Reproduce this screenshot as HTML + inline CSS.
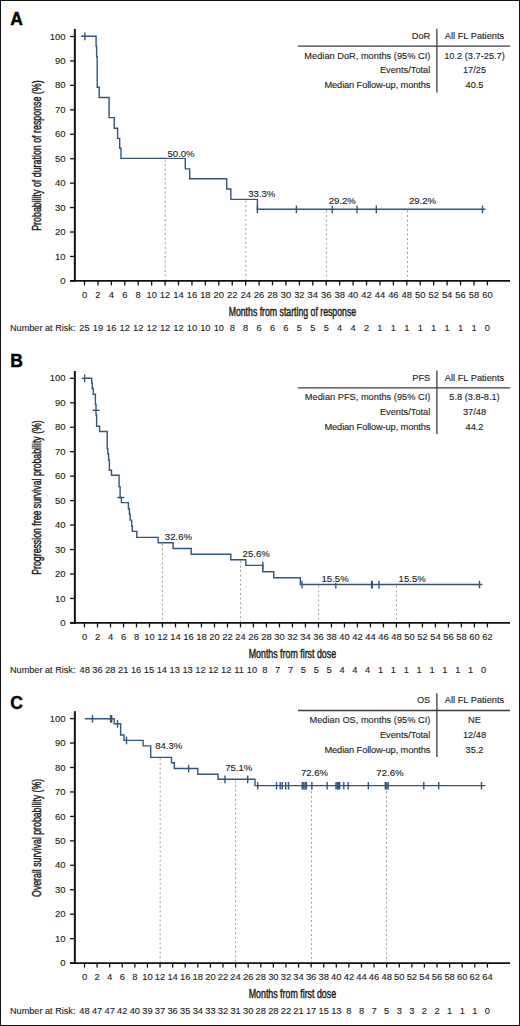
<!DOCTYPE html><html><head><meta charset="utf-8"><style>html,body{margin:0;padding:0;background:#fff;}svg{display:block;font-family:"Liberation Sans",sans-serif;}text{fill:#1c1c1c;stroke:#1c1c1c;stroke-width:.12px;}text.ti{stroke-width:.45px;}text.L{fill:#000;stroke:#000;stroke-width:.4px;}</style></head><body>
<svg width="520" height="1026" viewBox="0 0 520 1026">
<rect x="0" y="0" width="520" height="1026" fill="#fff"/>
<rect x="0.5" y="0.5" width="519" height="1025" fill="none" stroke="#111" stroke-width="1"/>
<text x="10.2" y="25.4" font-size="17.5" font-weight="bold" class="L">A</text>
<line x1="165.2" y1="159.4" x2="165.2" y2="279.9" stroke="#a4a4a4" stroke-width="1" stroke-dasharray="2.2 2.4"/>
<line x1="245.8" y1="200.4" x2="245.8" y2="279.9" stroke="#a4a4a4" stroke-width="1" stroke-dasharray="2.2 2.4"/>
<line x1="326.4" y1="210.3" x2="326.4" y2="279.9" stroke="#a4a4a4" stroke-width="1" stroke-dasharray="2.2 2.4"/>
<line x1="407.5" y1="210.3" x2="407.5" y2="279.9" stroke="#a4a4a4" stroke-width="1" stroke-dasharray="2.2 2.4"/>
<line x1="74.85" y1="28.9" x2="74.85" y2="281.8" stroke="#111" stroke-width="2"/>
<line x1="70" y1="280.9" x2="510" y2="280.9" stroke="#111" stroke-width="1.8"/>
<line x1="70" y1="280.9" x2="74" y2="280.9" stroke="#111" stroke-width="1.3"/>
<text x="65.6" y="284" font-size="9.5" text-anchor="end">0</text>
<line x1="70" y1="256.46" x2="74" y2="256.46" stroke="#111" stroke-width="1.3"/>
<text x="65.6" y="259.56" font-size="9.5" text-anchor="end">10</text>
<line x1="70" y1="232.02" x2="74" y2="232.02" stroke="#111" stroke-width="1.3"/>
<text x="65.6" y="235.12" font-size="9.5" text-anchor="end">20</text>
<line x1="70" y1="207.58" x2="74" y2="207.58" stroke="#111" stroke-width="1.3"/>
<text x="65.6" y="210.68" font-size="9.5" text-anchor="end">30</text>
<line x1="70" y1="183.14" x2="74" y2="183.14" stroke="#111" stroke-width="1.3"/>
<text x="65.6" y="186.24" font-size="9.5" text-anchor="end">40</text>
<line x1="70" y1="158.7" x2="74" y2="158.7" stroke="#111" stroke-width="1.3"/>
<text x="65.6" y="161.8" font-size="9.5" text-anchor="end">50</text>
<line x1="70" y1="134.26" x2="74" y2="134.26" stroke="#111" stroke-width="1.3"/>
<text x="65.6" y="137.36" font-size="9.5" text-anchor="end">60</text>
<line x1="70" y1="109.82" x2="74" y2="109.82" stroke="#111" stroke-width="1.3"/>
<text x="65.6" y="112.92" font-size="9.5" text-anchor="end">70</text>
<line x1="70" y1="85.38" x2="74" y2="85.38" stroke="#111" stroke-width="1.3"/>
<text x="65.6" y="88.48" font-size="9.5" text-anchor="end">80</text>
<line x1="70" y1="60.94" x2="74" y2="60.94" stroke="#111" stroke-width="1.3"/>
<text x="65.6" y="64.04" font-size="9.5" text-anchor="end">90</text>
<line x1="70" y1="36.5" x2="74" y2="36.5" stroke="#111" stroke-width="1.3"/>
<text x="65.6" y="39.6" font-size="9.5" text-anchor="end">100</text>
<line x1="84.5" y1="280.9" x2="84.5" y2="285.4" stroke="#111" stroke-width="1.3"/>
<text x="84.5" y="298" font-size="9.4" text-anchor="middle">0</text>
<line x1="97.93" y1="280.9" x2="97.93" y2="285.4" stroke="#111" stroke-width="1.3"/>
<text x="97.93" y="298" font-size="9.4" text-anchor="middle">2</text>
<line x1="111.36" y1="280.9" x2="111.36" y2="285.4" stroke="#111" stroke-width="1.3"/>
<text x="111.36" y="298" font-size="9.4" text-anchor="middle">4</text>
<line x1="124.79" y1="280.9" x2="124.79" y2="285.4" stroke="#111" stroke-width="1.3"/>
<text x="124.79" y="298" font-size="9.4" text-anchor="middle">6</text>
<line x1="138.22" y1="280.9" x2="138.22" y2="285.4" stroke="#111" stroke-width="1.3"/>
<text x="138.22" y="298" font-size="9.4" text-anchor="middle">8</text>
<line x1="151.65" y1="280.9" x2="151.65" y2="285.4" stroke="#111" stroke-width="1.3"/>
<text x="151.65" y="298" font-size="9.4" text-anchor="middle">10</text>
<line x1="165.08" y1="280.9" x2="165.08" y2="285.4" stroke="#111" stroke-width="1.3"/>
<text x="165.08" y="298" font-size="9.4" text-anchor="middle">12</text>
<line x1="178.51" y1="280.9" x2="178.51" y2="285.4" stroke="#111" stroke-width="1.3"/>
<text x="178.51" y="298" font-size="9.4" text-anchor="middle">14</text>
<line x1="191.94" y1="280.9" x2="191.94" y2="285.4" stroke="#111" stroke-width="1.3"/>
<text x="191.94" y="298" font-size="9.4" text-anchor="middle">16</text>
<line x1="205.37" y1="280.9" x2="205.37" y2="285.4" stroke="#111" stroke-width="1.3"/>
<text x="205.37" y="298" font-size="9.4" text-anchor="middle">18</text>
<line x1="218.8" y1="280.9" x2="218.8" y2="285.4" stroke="#111" stroke-width="1.3"/>
<text x="218.8" y="298" font-size="9.4" text-anchor="middle">20</text>
<line x1="232.23" y1="280.9" x2="232.23" y2="285.4" stroke="#111" stroke-width="1.3"/>
<text x="232.23" y="298" font-size="9.4" text-anchor="middle">22</text>
<line x1="245.66" y1="280.9" x2="245.66" y2="285.4" stroke="#111" stroke-width="1.3"/>
<text x="245.66" y="298" font-size="9.4" text-anchor="middle">24</text>
<line x1="259.09" y1="280.9" x2="259.09" y2="285.4" stroke="#111" stroke-width="1.3"/>
<text x="259.09" y="298" font-size="9.4" text-anchor="middle">26</text>
<line x1="272.52" y1="280.9" x2="272.52" y2="285.4" stroke="#111" stroke-width="1.3"/>
<text x="272.52" y="298" font-size="9.4" text-anchor="middle">28</text>
<line x1="285.95" y1="280.9" x2="285.95" y2="285.4" stroke="#111" stroke-width="1.3"/>
<text x="285.95" y="298" font-size="9.4" text-anchor="middle">30</text>
<line x1="299.38" y1="280.9" x2="299.38" y2="285.4" stroke="#111" stroke-width="1.3"/>
<text x="299.38" y="298" font-size="9.4" text-anchor="middle">32</text>
<line x1="312.81" y1="280.9" x2="312.81" y2="285.4" stroke="#111" stroke-width="1.3"/>
<text x="312.81" y="298" font-size="9.4" text-anchor="middle">34</text>
<line x1="326.24" y1="280.9" x2="326.24" y2="285.4" stroke="#111" stroke-width="1.3"/>
<text x="326.24" y="298" font-size="9.4" text-anchor="middle">36</text>
<line x1="339.67" y1="280.9" x2="339.67" y2="285.4" stroke="#111" stroke-width="1.3"/>
<text x="339.67" y="298" font-size="9.4" text-anchor="middle">38</text>
<line x1="353.1" y1="280.9" x2="353.1" y2="285.4" stroke="#111" stroke-width="1.3"/>
<text x="353.1" y="298" font-size="9.4" text-anchor="middle">40</text>
<line x1="366.53" y1="280.9" x2="366.53" y2="285.4" stroke="#111" stroke-width="1.3"/>
<text x="366.53" y="298" font-size="9.4" text-anchor="middle">42</text>
<line x1="379.96" y1="280.9" x2="379.96" y2="285.4" stroke="#111" stroke-width="1.3"/>
<text x="379.96" y="298" font-size="9.4" text-anchor="middle">44</text>
<line x1="393.39" y1="280.9" x2="393.39" y2="285.4" stroke="#111" stroke-width="1.3"/>
<text x="393.39" y="298" font-size="9.4" text-anchor="middle">46</text>
<line x1="406.82" y1="280.9" x2="406.82" y2="285.4" stroke="#111" stroke-width="1.3"/>
<text x="406.82" y="298" font-size="9.4" text-anchor="middle">48</text>
<line x1="420.25" y1="280.9" x2="420.25" y2="285.4" stroke="#111" stroke-width="1.3"/>
<text x="420.25" y="298" font-size="9.4" text-anchor="middle">50</text>
<line x1="433.68" y1="280.9" x2="433.68" y2="285.4" stroke="#111" stroke-width="1.3"/>
<text x="433.68" y="298" font-size="9.4" text-anchor="middle">52</text>
<line x1="447.11" y1="280.9" x2="447.11" y2="285.4" stroke="#111" stroke-width="1.3"/>
<text x="447.11" y="298" font-size="9.4" text-anchor="middle">54</text>
<line x1="460.54" y1="280.9" x2="460.54" y2="285.4" stroke="#111" stroke-width="1.3"/>
<text x="460.54" y="298" font-size="9.4" text-anchor="middle">56</text>
<line x1="473.97" y1="280.9" x2="473.97" y2="285.4" stroke="#111" stroke-width="1.3"/>
<text x="473.97" y="298" font-size="9.4" text-anchor="middle">58</text>
<line x1="487.4" y1="280.9" x2="487.4" y2="285.4" stroke="#111" stroke-width="1.3"/>
<text x="487.4" y="298" font-size="9.4" text-anchor="middle">60</text>
<text x="292.4" y="315.9" font-size="12.5" text-anchor="middle" class="ti" textLength="127.5" lengthAdjust="spacingAndGlyphs">Months from starting of response</text>
<text transform="translate(41.3 155.6) rotate(-90)" x="0" y="0" font-size="12.5" text-anchor="middle" class="ti" textLength="150.4" lengthAdjust="spacingAndGlyphs">Probability of duration of response (%)</text>
<text x="10" y="331.3" font-size="9.15">Number at Risk:</text>
<text x="84.5" y="331.3" font-size="9.3" text-anchor="middle">25</text>
<text x="97.93" y="331.3" font-size="9.3" text-anchor="middle">19</text>
<text x="111.36" y="331.3" font-size="9.3" text-anchor="middle">16</text>
<text x="124.79" y="331.3" font-size="9.3" text-anchor="middle">12</text>
<text x="138.22" y="331.3" font-size="9.3" text-anchor="middle">12</text>
<text x="151.65" y="331.3" font-size="9.3" text-anchor="middle">12</text>
<text x="165.08" y="331.3" font-size="9.3" text-anchor="middle">12</text>
<text x="178.51" y="331.3" font-size="9.3" text-anchor="middle">12</text>
<text x="191.94" y="331.3" font-size="9.3" text-anchor="middle">10</text>
<text x="205.37" y="331.3" font-size="9.3" text-anchor="middle">10</text>
<text x="218.8" y="331.3" font-size="9.3" text-anchor="middle">10</text>
<text x="232.23" y="331.3" font-size="9.3" text-anchor="middle">8</text>
<text x="245.66" y="331.3" font-size="9.3" text-anchor="middle">8</text>
<text x="259.09" y="331.3" font-size="9.3" text-anchor="middle">6</text>
<text x="272.52" y="331.3" font-size="9.3" text-anchor="middle">6</text>
<text x="285.95" y="331.3" font-size="9.3" text-anchor="middle">6</text>
<text x="299.38" y="331.3" font-size="9.3" text-anchor="middle">5</text>
<text x="312.81" y="331.3" font-size="9.3" text-anchor="middle">5</text>
<text x="326.24" y="331.3" font-size="9.3" text-anchor="middle">5</text>
<text x="339.67" y="331.3" font-size="9.3" text-anchor="middle">4</text>
<text x="353.1" y="331.3" font-size="9.3" text-anchor="middle">4</text>
<text x="366.53" y="331.3" font-size="9.3" text-anchor="middle">2</text>
<text x="379.96" y="331.3" font-size="9.3" text-anchor="middle">1</text>
<text x="393.39" y="331.3" font-size="9.3" text-anchor="middle">1</text>
<text x="406.82" y="331.3" font-size="9.3" text-anchor="middle">1</text>
<text x="420.25" y="331.3" font-size="9.3" text-anchor="middle">1</text>
<text x="433.68" y="331.3" font-size="9.3" text-anchor="middle">1</text>
<text x="447.11" y="331.3" font-size="9.3" text-anchor="middle">1</text>
<text x="460.54" y="331.3" font-size="9.3" text-anchor="middle">1</text>
<text x="473.97" y="331.3" font-size="9.3" text-anchor="middle">1</text>
<text x="487.4" y="331.3" font-size="9.3" text-anchor="middle">0</text>
<line x1="298" y1="46.1" x2="510" y2="46.1" stroke="#3c3c3c" stroke-width="1.3"/>
<line x1="436.9" y1="28.8" x2="436.9" y2="92.5" stroke="#3c3c3c" stroke-width="1.3"/>
<text x="430.3" y="38.8" font-size="9.25" text-anchor="end">DoR</text>
<text x="474.5" y="38.8" font-size="9.25" text-anchor="middle">All FL Patients</text>
<text x="430.3" y="58.7" font-size="9.25" text-anchor="end">Median DoR, months (95% CI)</text>
<text x="474.5" y="58.7" font-size="9.25" text-anchor="middle">10.2 (3.7-25.7)</text>
<text x="430.3" y="73.4" font-size="9.25" text-anchor="end">Events/Total</text>
<text x="474.5" y="73.4" font-size="9.25" text-anchor="middle">17/25</text>
<text x="430.3" y="88.1" font-size="9.25" text-anchor="end" textLength="105.8" lengthAdjust="spacing">Median Follow-up, months</text>
<text x="474.5" y="88.1" font-size="9.25" text-anchor="middle">40.5</text>
<path d="M81.1 36.3H96.1V46.2H96.6V56.5H97.2V87.3H99.2V97.5H109.1V117.6H114.2V128.2H117.6V138.4H119.7V148.3H121V158.4H185.3V168.9H189.7V178.8H226.7V189H230.8V199.4H257.4V209.3H485.5" fill="none" stroke="#33557a" stroke-width="1.4" stroke-linejoin="miter" stroke-linecap="butt"/>
<line x1="84.9" y1="32.6" x2="84.9" y2="40.2" stroke="#33557a" stroke-width="1.4"/>
<line x1="257.4" y1="205.6" x2="257.4" y2="213.2" stroke="#33557a" stroke-width="1.4"/>
<line x1="296.4" y1="205.6" x2="296.4" y2="213.2" stroke="#33557a" stroke-width="1.4"/>
<line x1="332.2" y1="205.6" x2="332.2" y2="213.2" stroke="#33557a" stroke-width="1.4"/>
<line x1="357" y1="205.6" x2="357" y2="213.2" stroke="#33557a" stroke-width="1.4"/>
<line x1="376.3" y1="205.6" x2="376.3" y2="213.2" stroke="#33557a" stroke-width="1.4"/>
<line x1="482.5" y1="205.6" x2="482.5" y2="213.2" stroke="#33557a" stroke-width="1.4"/>
<rect x="167" y="148.6" width="28" height="9" fill="#fff"/>
<text x="167.4" y="156.6" font-size="9.6">50.0%</text>
<rect x="247.8" y="189.3" width="28" height="9" fill="#fff"/>
<text x="248.2" y="197.3" font-size="9.6">33.3%</text>
<rect x="328.3" y="196.4" width="28" height="9" fill="#fff"/>
<text x="328.7" y="204.4" font-size="9.6">29.2%</text>
<rect x="408.5" y="195.8" width="28" height="9" fill="#fff"/>
<text x="408.9" y="203.8" font-size="9.6">29.2%</text>
<text x="10.2" y="366.9" font-size="17.5" font-weight="bold" class="L">B</text>
<line x1="162.4" y1="543.8" x2="162.4" y2="621.9" stroke="#a4a4a4" stroke-width="1" stroke-dasharray="2.2 2.4"/>
<line x1="240.6" y1="560.7" x2="240.6" y2="621.9" stroke="#a4a4a4" stroke-width="1" stroke-dasharray="2.2 2.4"/>
<line x1="318.6" y1="585.5" x2="318.6" y2="621.9" stroke="#a4a4a4" stroke-width="1" stroke-dasharray="2.2 2.4"/>
<line x1="396.5" y1="585.5" x2="396.5" y2="621.9" stroke="#a4a4a4" stroke-width="1" stroke-dasharray="2.2 2.4"/>
<line x1="74.85" y1="371" x2="74.85" y2="623.8" stroke="#111" stroke-width="2"/>
<line x1="70" y1="622.9" x2="510" y2="622.9" stroke="#111" stroke-width="1.8"/>
<line x1="70" y1="622.9" x2="74" y2="622.9" stroke="#111" stroke-width="1.3"/>
<text x="65.6" y="626" font-size="9.5" text-anchor="end">0</text>
<line x1="70" y1="598.44" x2="74" y2="598.44" stroke="#111" stroke-width="1.3"/>
<text x="65.6" y="601.54" font-size="9.5" text-anchor="end">10</text>
<line x1="70" y1="573.98" x2="74" y2="573.98" stroke="#111" stroke-width="1.3"/>
<text x="65.6" y="577.08" font-size="9.5" text-anchor="end">20</text>
<line x1="70" y1="549.52" x2="74" y2="549.52" stroke="#111" stroke-width="1.3"/>
<text x="65.6" y="552.62" font-size="9.5" text-anchor="end">30</text>
<line x1="70" y1="525.06" x2="74" y2="525.06" stroke="#111" stroke-width="1.3"/>
<text x="65.6" y="528.16" font-size="9.5" text-anchor="end">40</text>
<line x1="70" y1="500.6" x2="74" y2="500.6" stroke="#111" stroke-width="1.3"/>
<text x="65.6" y="503.7" font-size="9.5" text-anchor="end">50</text>
<line x1="70" y1="476.14" x2="74" y2="476.14" stroke="#111" stroke-width="1.3"/>
<text x="65.6" y="479.24" font-size="9.5" text-anchor="end">60</text>
<line x1="70" y1="451.68" x2="74" y2="451.68" stroke="#111" stroke-width="1.3"/>
<text x="65.6" y="454.78" font-size="9.5" text-anchor="end">70</text>
<line x1="70" y1="427.22" x2="74" y2="427.22" stroke="#111" stroke-width="1.3"/>
<text x="65.6" y="430.32" font-size="9.5" text-anchor="end">80</text>
<line x1="70" y1="402.76" x2="74" y2="402.76" stroke="#111" stroke-width="1.3"/>
<text x="65.6" y="405.86" font-size="9.5" text-anchor="end">90</text>
<line x1="70" y1="378.3" x2="74" y2="378.3" stroke="#111" stroke-width="1.3"/>
<text x="65.6" y="381.4" font-size="9.5" text-anchor="end">100</text>
<line x1="84.5" y1="622.9" x2="84.5" y2="627.4" stroke="#111" stroke-width="1.3"/>
<text x="84.5" y="639.8" font-size="9.4" text-anchor="middle">0</text>
<line x1="97.5" y1="622.9" x2="97.5" y2="627.4" stroke="#111" stroke-width="1.3"/>
<text x="97.5" y="639.8" font-size="9.4" text-anchor="middle">2</text>
<line x1="110.49" y1="622.9" x2="110.49" y2="627.4" stroke="#111" stroke-width="1.3"/>
<text x="110.49" y="639.8" font-size="9.4" text-anchor="middle">4</text>
<line x1="123.49" y1="622.9" x2="123.49" y2="627.4" stroke="#111" stroke-width="1.3"/>
<text x="123.49" y="639.8" font-size="9.4" text-anchor="middle">6</text>
<line x1="136.49" y1="622.9" x2="136.49" y2="627.4" stroke="#111" stroke-width="1.3"/>
<text x="136.49" y="639.8" font-size="9.4" text-anchor="middle">8</text>
<line x1="149.48" y1="622.9" x2="149.48" y2="627.4" stroke="#111" stroke-width="1.3"/>
<text x="149.48" y="639.8" font-size="9.4" text-anchor="middle">10</text>
<line x1="162.48" y1="622.9" x2="162.48" y2="627.4" stroke="#111" stroke-width="1.3"/>
<text x="162.48" y="639.8" font-size="9.4" text-anchor="middle">12</text>
<line x1="175.48" y1="622.9" x2="175.48" y2="627.4" stroke="#111" stroke-width="1.3"/>
<text x="175.48" y="639.8" font-size="9.4" text-anchor="middle">14</text>
<line x1="188.47" y1="622.9" x2="188.47" y2="627.4" stroke="#111" stroke-width="1.3"/>
<text x="188.47" y="639.8" font-size="9.4" text-anchor="middle">16</text>
<line x1="201.47" y1="622.9" x2="201.47" y2="627.4" stroke="#111" stroke-width="1.3"/>
<text x="201.47" y="639.8" font-size="9.4" text-anchor="middle">18</text>
<line x1="214.47" y1="622.9" x2="214.47" y2="627.4" stroke="#111" stroke-width="1.3"/>
<text x="214.47" y="639.8" font-size="9.4" text-anchor="middle">20</text>
<line x1="227.46" y1="622.9" x2="227.46" y2="627.4" stroke="#111" stroke-width="1.3"/>
<text x="227.46" y="639.8" font-size="9.4" text-anchor="middle">22</text>
<line x1="240.46" y1="622.9" x2="240.46" y2="627.4" stroke="#111" stroke-width="1.3"/>
<text x="240.46" y="639.8" font-size="9.4" text-anchor="middle">24</text>
<line x1="253.46" y1="622.9" x2="253.46" y2="627.4" stroke="#111" stroke-width="1.3"/>
<text x="253.46" y="639.8" font-size="9.4" text-anchor="middle">26</text>
<line x1="266.45" y1="622.9" x2="266.45" y2="627.4" stroke="#111" stroke-width="1.3"/>
<text x="266.45" y="639.8" font-size="9.4" text-anchor="middle">28</text>
<line x1="279.45" y1="622.9" x2="279.45" y2="627.4" stroke="#111" stroke-width="1.3"/>
<text x="279.45" y="639.8" font-size="9.4" text-anchor="middle">30</text>
<line x1="292.45" y1="622.9" x2="292.45" y2="627.4" stroke="#111" stroke-width="1.3"/>
<text x="292.45" y="639.8" font-size="9.4" text-anchor="middle">32</text>
<line x1="305.45" y1="622.9" x2="305.45" y2="627.4" stroke="#111" stroke-width="1.3"/>
<text x="305.45" y="639.8" font-size="9.4" text-anchor="middle">34</text>
<line x1="318.44" y1="622.9" x2="318.44" y2="627.4" stroke="#111" stroke-width="1.3"/>
<text x="318.44" y="639.8" font-size="9.4" text-anchor="middle">36</text>
<line x1="331.44" y1="622.9" x2="331.44" y2="627.4" stroke="#111" stroke-width="1.3"/>
<text x="331.44" y="639.8" font-size="9.4" text-anchor="middle">38</text>
<line x1="344.44" y1="622.9" x2="344.44" y2="627.4" stroke="#111" stroke-width="1.3"/>
<text x="344.44" y="639.8" font-size="9.4" text-anchor="middle">40</text>
<line x1="357.43" y1="622.9" x2="357.43" y2="627.4" stroke="#111" stroke-width="1.3"/>
<text x="357.43" y="639.8" font-size="9.4" text-anchor="middle">42</text>
<line x1="370.43" y1="622.9" x2="370.43" y2="627.4" stroke="#111" stroke-width="1.3"/>
<text x="370.43" y="639.8" font-size="9.4" text-anchor="middle">44</text>
<line x1="383.43" y1="622.9" x2="383.43" y2="627.4" stroke="#111" stroke-width="1.3"/>
<text x="383.43" y="639.8" font-size="9.4" text-anchor="middle">46</text>
<line x1="396.42" y1="622.9" x2="396.42" y2="627.4" stroke="#111" stroke-width="1.3"/>
<text x="396.42" y="639.8" font-size="9.4" text-anchor="middle">48</text>
<line x1="409.42" y1="622.9" x2="409.42" y2="627.4" stroke="#111" stroke-width="1.3"/>
<text x="409.42" y="639.8" font-size="9.4" text-anchor="middle">50</text>
<line x1="422.42" y1="622.9" x2="422.42" y2="627.4" stroke="#111" stroke-width="1.3"/>
<text x="422.42" y="639.8" font-size="9.4" text-anchor="middle">52</text>
<line x1="435.41" y1="622.9" x2="435.41" y2="627.4" stroke="#111" stroke-width="1.3"/>
<text x="435.41" y="639.8" font-size="9.4" text-anchor="middle">54</text>
<line x1="448.41" y1="622.9" x2="448.41" y2="627.4" stroke="#111" stroke-width="1.3"/>
<text x="448.41" y="639.8" font-size="9.4" text-anchor="middle">56</text>
<line x1="461.41" y1="622.9" x2="461.41" y2="627.4" stroke="#111" stroke-width="1.3"/>
<text x="461.41" y="639.8" font-size="9.4" text-anchor="middle">58</text>
<line x1="474.4" y1="622.9" x2="474.4" y2="627.4" stroke="#111" stroke-width="1.3"/>
<text x="474.4" y="639.8" font-size="9.4" text-anchor="middle">60</text>
<line x1="487.4" y1="622.9" x2="487.4" y2="627.4" stroke="#111" stroke-width="1.3"/>
<text x="487.4" y="639.8" font-size="9.4" text-anchor="middle">62</text>
<text x="292.4" y="658.2" font-size="12.5" text-anchor="middle" class="ti" textLength="87.4" lengthAdjust="spacingAndGlyphs">Months from first dose</text>
<text transform="translate(41.3 497.5) rotate(-90)" x="0" y="0" font-size="12.5" text-anchor="middle" class="ti" textLength="154.5" lengthAdjust="spacingAndGlyphs">Progression free survival probability (%)</text>
<text x="10" y="673" font-size="9.15">Number at Risk:</text>
<text x="84.65" y="673" font-size="9.3" text-anchor="middle">48</text>
<text x="97.52" y="673" font-size="9.3" text-anchor="middle">36</text>
<text x="110.38" y="673" font-size="9.3" text-anchor="middle">28</text>
<text x="123.25" y="673" font-size="9.3" text-anchor="middle">21</text>
<text x="136.11" y="673" font-size="9.3" text-anchor="middle">16</text>
<text x="148.98" y="673" font-size="9.3" text-anchor="middle">15</text>
<text x="161.85" y="673" font-size="9.3" text-anchor="middle">14</text>
<text x="174.71" y="673" font-size="9.3" text-anchor="middle">13</text>
<text x="187.58" y="673" font-size="9.3" text-anchor="middle">13</text>
<text x="200.44" y="673" font-size="9.3" text-anchor="middle">12</text>
<text x="213.31" y="673" font-size="9.3" text-anchor="middle">12</text>
<text x="226.18" y="673" font-size="9.3" text-anchor="middle">12</text>
<text x="239.04" y="673" font-size="9.3" text-anchor="middle">11</text>
<text x="251.91" y="673" font-size="9.3" text-anchor="middle">10</text>
<text x="264.77" y="673" font-size="9.3" text-anchor="middle">8</text>
<text x="277.64" y="673" font-size="9.3" text-anchor="middle">7</text>
<text x="290.51" y="673" font-size="9.3" text-anchor="middle">7</text>
<text x="303.37" y="673" font-size="9.3" text-anchor="middle">5</text>
<text x="316.24" y="673" font-size="9.3" text-anchor="middle">5</text>
<text x="329.1" y="673" font-size="9.3" text-anchor="middle">5</text>
<text x="341.97" y="673" font-size="9.3" text-anchor="middle">4</text>
<text x="354.84" y="673" font-size="9.3" text-anchor="middle">4</text>
<text x="367.7" y="673" font-size="9.3" text-anchor="middle">4</text>
<text x="380.57" y="673" font-size="9.3" text-anchor="middle">1</text>
<text x="393.43" y="673" font-size="9.3" text-anchor="middle">1</text>
<text x="406.3" y="673" font-size="9.3" text-anchor="middle">1</text>
<text x="419.17" y="673" font-size="9.3" text-anchor="middle">1</text>
<text x="432.03" y="673" font-size="9.3" text-anchor="middle">1</text>
<text x="444.9" y="673" font-size="9.3" text-anchor="middle">1</text>
<text x="457.76" y="673" font-size="9.3" text-anchor="middle">1</text>
<text x="470.63" y="673" font-size="9.3" text-anchor="middle">1</text>
<text x="483.5" y="673" font-size="9.3" text-anchor="middle">0</text>
<line x1="298" y1="387.8" x2="510" y2="387.8" stroke="#3c3c3c" stroke-width="1.3"/>
<line x1="436.9" y1="370.5" x2="436.9" y2="434.2" stroke="#3c3c3c" stroke-width="1.3"/>
<text x="430.3" y="380.5" font-size="9.25" text-anchor="end">PFS</text>
<text x="474.5" y="380.5" font-size="9.25" text-anchor="middle">All FL Patients</text>
<text x="430.3" y="400.4" font-size="9.25" text-anchor="end">Median PFS, months (95% CI)</text>
<text x="474.5" y="400.4" font-size="9.25" text-anchor="middle">5.8 (3.8-8.1)</text>
<text x="430.3" y="415.1" font-size="9.25" text-anchor="end">Events/Total</text>
<text x="474.5" y="415.1" font-size="9.25" text-anchor="middle">37/48</text>
<text x="430.3" y="429.8" font-size="9.25" text-anchor="end" textLength="105.8" lengthAdjust="spacing">Median Follow-up, months</text>
<text x="474.5" y="429.8" font-size="9.25" text-anchor="middle">44.2</text>
<path d="M81.8 378.2H91.7V383.1H92.3V388.5H93.3V394.2H95.4V404.2H96V415H96.6V426.3H99.6V431.5H107.2V448.4H107.8V453.8H108.6V460H109.4V470.2H111.5V475.3H119.1V486.6H120.1V497.5H121.4V502.6H128.4V508.8H129.4V514H130.1V520.1H131.7V526.2H132.3V531.4H136.8V537.4H158.2V542.8H173.1V548.5H191.2V554.3H230.8V559.7H245.8V565.4H262.8V571.8H273.7V577.8H300.3V584.5H482.3" fill="none" stroke="#33557a" stroke-width="1.4" stroke-linejoin="miter" stroke-linecap="butt"/>
<line x1="84.65" y1="374.4" x2="84.65" y2="382" stroke="#33557a" stroke-width="1.4"/>
<line x1="262.8" y1="561.7" x2="262.8" y2="569.3" stroke="#33557a" stroke-width="1.4"/>
<line x1="302" y1="580.8" x2="302" y2="588.4" stroke="#33557a" stroke-width="1.4"/>
<line x1="335.8" y1="580.8" x2="335.8" y2="588.4" stroke="#33557a" stroke-width="1.4"/>
<line x1="371.6" y1="580.8" x2="371.6" y2="588.4" stroke="#33557a" stroke-width="1.4"/>
<line x1="372.2" y1="580.8" x2="372.2" y2="588.4" stroke="#33557a" stroke-width="1.4"/>
<line x1="379" y1="580.8" x2="379" y2="588.4" stroke="#33557a" stroke-width="1.4"/>
<line x1="479.5" y1="580.8" x2="479.5" y2="588.4" stroke="#33557a" stroke-width="1.4"/>
<line x1="92.6" y1="410.3" x2="99.6" y2="410.3" stroke="#33557a" stroke-width="1.4"/>
<line x1="117.3" y1="497.5" x2="124.3" y2="497.5" stroke="#33557a" stroke-width="1.4"/>
<rect x="164.4" y="532" width="28" height="9" fill="#fff"/>
<text x="164.8" y="540" font-size="9.6">32.6%</text>
<rect x="242.2" y="549.2" width="28" height="9" fill="#fff"/>
<text x="242.6" y="557.2" font-size="9.6">25.6%</text>
<rect x="321.1" y="573.8" width="28" height="9" fill="#fff"/>
<text x="321.5" y="581.8" font-size="9.6">15.5%</text>
<rect x="398.2" y="573.8" width="28" height="9" fill="#fff"/>
<text x="398.6" y="581.8" font-size="9.6">15.5%</text>
<text x="10.2" y="708.9" font-size="17.5" font-weight="bold" class="L">C</text>
<line x1="160.2" y1="758.4" x2="160.2" y2="962.1" stroke="#a4a4a4" stroke-width="1" stroke-dasharray="2.2 2.4"/>
<line x1="235.5" y1="780.3" x2="235.5" y2="962.1" stroke="#a4a4a4" stroke-width="1" stroke-dasharray="2.2 2.4"/>
<line x1="311.5" y1="786.6" x2="311.5" y2="962.1" stroke="#a4a4a4" stroke-width="1" stroke-dasharray="2.2 2.4"/>
<line x1="386.4" y1="786.6" x2="386.4" y2="962.1" stroke="#a4a4a4" stroke-width="1" stroke-dasharray="2.2 2.4"/>
<line x1="74.85" y1="711.2" x2="74.85" y2="964" stroke="#111" stroke-width="2"/>
<line x1="70" y1="963.1" x2="510" y2="963.1" stroke="#111" stroke-width="1.8"/>
<line x1="70" y1="963.1" x2="74" y2="963.1" stroke="#111" stroke-width="1.3"/>
<text x="65.6" y="966.2" font-size="9.5" text-anchor="end">0</text>
<line x1="70" y1="938.65" x2="74" y2="938.65" stroke="#111" stroke-width="1.3"/>
<text x="65.6" y="941.75" font-size="9.5" text-anchor="end">10</text>
<line x1="70" y1="914.2" x2="74" y2="914.2" stroke="#111" stroke-width="1.3"/>
<text x="65.6" y="917.3" font-size="9.5" text-anchor="end">20</text>
<line x1="70" y1="889.75" x2="74" y2="889.75" stroke="#111" stroke-width="1.3"/>
<text x="65.6" y="892.85" font-size="9.5" text-anchor="end">30</text>
<line x1="70" y1="865.3" x2="74" y2="865.3" stroke="#111" stroke-width="1.3"/>
<text x="65.6" y="868.4" font-size="9.5" text-anchor="end">40</text>
<line x1="70" y1="840.85" x2="74" y2="840.85" stroke="#111" stroke-width="1.3"/>
<text x="65.6" y="843.95" font-size="9.5" text-anchor="end">50</text>
<line x1="70" y1="816.4" x2="74" y2="816.4" stroke="#111" stroke-width="1.3"/>
<text x="65.6" y="819.5" font-size="9.5" text-anchor="end">60</text>
<line x1="70" y1="791.95" x2="74" y2="791.95" stroke="#111" stroke-width="1.3"/>
<text x="65.6" y="795.05" font-size="9.5" text-anchor="end">70</text>
<line x1="70" y1="767.5" x2="74" y2="767.5" stroke="#111" stroke-width="1.3"/>
<text x="65.6" y="770.6" font-size="9.5" text-anchor="end">80</text>
<line x1="70" y1="743.05" x2="74" y2="743.05" stroke="#111" stroke-width="1.3"/>
<text x="65.6" y="746.15" font-size="9.5" text-anchor="end">90</text>
<line x1="70" y1="718.6" x2="74" y2="718.6" stroke="#111" stroke-width="1.3"/>
<text x="65.6" y="721.7" font-size="9.5" text-anchor="end">100</text>
<line x1="84.5" y1="963.1" x2="84.5" y2="967.6" stroke="#111" stroke-width="1.3"/>
<text x="84.5" y="980" font-size="9.4" text-anchor="middle">0</text>
<line x1="97.09" y1="963.1" x2="97.09" y2="967.6" stroke="#111" stroke-width="1.3"/>
<text x="97.09" y="980" font-size="9.4" text-anchor="middle">2</text>
<line x1="109.68" y1="963.1" x2="109.68" y2="967.6" stroke="#111" stroke-width="1.3"/>
<text x="109.68" y="980" font-size="9.4" text-anchor="middle">4</text>
<line x1="122.27" y1="963.1" x2="122.27" y2="967.6" stroke="#111" stroke-width="1.3"/>
<text x="122.27" y="980" font-size="9.4" text-anchor="middle">6</text>
<line x1="134.86" y1="963.1" x2="134.86" y2="967.6" stroke="#111" stroke-width="1.3"/>
<text x="134.86" y="980" font-size="9.4" text-anchor="middle">8</text>
<line x1="147.45" y1="963.1" x2="147.45" y2="967.6" stroke="#111" stroke-width="1.3"/>
<text x="147.45" y="980" font-size="9.4" text-anchor="middle">10</text>
<line x1="160.04" y1="963.1" x2="160.04" y2="967.6" stroke="#111" stroke-width="1.3"/>
<text x="160.04" y="980" font-size="9.4" text-anchor="middle">12</text>
<line x1="172.63" y1="963.1" x2="172.63" y2="967.6" stroke="#111" stroke-width="1.3"/>
<text x="172.63" y="980" font-size="9.4" text-anchor="middle">14</text>
<line x1="185.22" y1="963.1" x2="185.22" y2="967.6" stroke="#111" stroke-width="1.3"/>
<text x="185.22" y="980" font-size="9.4" text-anchor="middle">16</text>
<line x1="197.82" y1="963.1" x2="197.82" y2="967.6" stroke="#111" stroke-width="1.3"/>
<text x="197.82" y="980" font-size="9.4" text-anchor="middle">18</text>
<line x1="210.41" y1="963.1" x2="210.41" y2="967.6" stroke="#111" stroke-width="1.3"/>
<text x="210.41" y="980" font-size="9.4" text-anchor="middle">20</text>
<line x1="223" y1="963.1" x2="223" y2="967.6" stroke="#111" stroke-width="1.3"/>
<text x="223" y="980" font-size="9.4" text-anchor="middle">22</text>
<line x1="235.59" y1="963.1" x2="235.59" y2="967.6" stroke="#111" stroke-width="1.3"/>
<text x="235.59" y="980" font-size="9.4" text-anchor="middle">24</text>
<line x1="248.18" y1="963.1" x2="248.18" y2="967.6" stroke="#111" stroke-width="1.3"/>
<text x="248.18" y="980" font-size="9.4" text-anchor="middle">26</text>
<line x1="260.77" y1="963.1" x2="260.77" y2="967.6" stroke="#111" stroke-width="1.3"/>
<text x="260.77" y="980" font-size="9.4" text-anchor="middle">28</text>
<line x1="273.36" y1="963.1" x2="273.36" y2="967.6" stroke="#111" stroke-width="1.3"/>
<text x="273.36" y="980" font-size="9.4" text-anchor="middle">30</text>
<line x1="285.95" y1="963.1" x2="285.95" y2="967.6" stroke="#111" stroke-width="1.3"/>
<text x="285.95" y="980" font-size="9.4" text-anchor="middle">32</text>
<line x1="298.54" y1="963.1" x2="298.54" y2="967.6" stroke="#111" stroke-width="1.3"/>
<text x="298.54" y="980" font-size="9.4" text-anchor="middle">34</text>
<line x1="311.13" y1="963.1" x2="311.13" y2="967.6" stroke="#111" stroke-width="1.3"/>
<text x="311.13" y="980" font-size="9.4" text-anchor="middle">36</text>
<line x1="323.72" y1="963.1" x2="323.72" y2="967.6" stroke="#111" stroke-width="1.3"/>
<text x="323.72" y="980" font-size="9.4" text-anchor="middle">38</text>
<line x1="336.31" y1="963.1" x2="336.31" y2="967.6" stroke="#111" stroke-width="1.3"/>
<text x="336.31" y="980" font-size="9.4" text-anchor="middle">40</text>
<line x1="348.9" y1="963.1" x2="348.9" y2="967.6" stroke="#111" stroke-width="1.3"/>
<text x="348.9" y="980" font-size="9.4" text-anchor="middle">42</text>
<line x1="361.49" y1="963.1" x2="361.49" y2="967.6" stroke="#111" stroke-width="1.3"/>
<text x="361.49" y="980" font-size="9.4" text-anchor="middle">44</text>
<line x1="374.08" y1="963.1" x2="374.08" y2="967.6" stroke="#111" stroke-width="1.3"/>
<text x="374.08" y="980" font-size="9.4" text-anchor="middle">46</text>
<line x1="386.67" y1="963.1" x2="386.67" y2="967.6" stroke="#111" stroke-width="1.3"/>
<text x="386.67" y="980" font-size="9.4" text-anchor="middle">48</text>
<line x1="399.27" y1="963.1" x2="399.27" y2="967.6" stroke="#111" stroke-width="1.3"/>
<text x="399.27" y="980" font-size="9.4" text-anchor="middle">50</text>
<line x1="411.86" y1="963.1" x2="411.86" y2="967.6" stroke="#111" stroke-width="1.3"/>
<text x="411.86" y="980" font-size="9.4" text-anchor="middle">52</text>
<line x1="424.45" y1="963.1" x2="424.45" y2="967.6" stroke="#111" stroke-width="1.3"/>
<text x="424.45" y="980" font-size="9.4" text-anchor="middle">54</text>
<line x1="437.04" y1="963.1" x2="437.04" y2="967.6" stroke="#111" stroke-width="1.3"/>
<text x="437.04" y="980" font-size="9.4" text-anchor="middle">56</text>
<line x1="449.63" y1="963.1" x2="449.63" y2="967.6" stroke="#111" stroke-width="1.3"/>
<text x="449.63" y="980" font-size="9.4" text-anchor="middle">58</text>
<line x1="462.22" y1="963.1" x2="462.22" y2="967.6" stroke="#111" stroke-width="1.3"/>
<text x="462.22" y="980" font-size="9.4" text-anchor="middle">60</text>
<line x1="474.81" y1="963.1" x2="474.81" y2="967.6" stroke="#111" stroke-width="1.3"/>
<text x="474.81" y="980" font-size="9.4" text-anchor="middle">62</text>
<line x1="487.4" y1="963.1" x2="487.4" y2="967.6" stroke="#111" stroke-width="1.3"/>
<text x="487.4" y="980" font-size="9.4" text-anchor="middle">64</text>
<text x="292.4" y="997.9" font-size="12.5" text-anchor="middle" class="ti" textLength="87.4" lengthAdjust="spacingAndGlyphs">Months from first dose</text>
<text transform="translate(41.3 837.9) rotate(-90)" x="0" y="0" font-size="12.5" text-anchor="middle" class="ti" textLength="118.0" lengthAdjust="spacingAndGlyphs">Overall survival probability (%)</text>
<text x="10" y="1013.7" font-size="9.15">Number at Risk:</text>
<text x="84.5" y="1013.7" font-size="9.3" text-anchor="middle">48</text>
<text x="97.09" y="1013.7" font-size="9.3" text-anchor="middle">47</text>
<text x="109.68" y="1013.7" font-size="9.3" text-anchor="middle">47</text>
<text x="122.27" y="1013.7" font-size="9.3" text-anchor="middle">42</text>
<text x="134.86" y="1013.7" font-size="9.3" text-anchor="middle">40</text>
<text x="147.45" y="1013.7" font-size="9.3" text-anchor="middle">39</text>
<text x="160.04" y="1013.7" font-size="9.3" text-anchor="middle">37</text>
<text x="172.63" y="1013.7" font-size="9.3" text-anchor="middle">36</text>
<text x="185.22" y="1013.7" font-size="9.3" text-anchor="middle">35</text>
<text x="197.82" y="1013.7" font-size="9.3" text-anchor="middle">34</text>
<text x="210.41" y="1013.7" font-size="9.3" text-anchor="middle">33</text>
<text x="223" y="1013.7" font-size="9.3" text-anchor="middle">32</text>
<text x="235.59" y="1013.7" font-size="9.3" text-anchor="middle">31</text>
<text x="248.18" y="1013.7" font-size="9.3" text-anchor="middle">30</text>
<text x="260.77" y="1013.7" font-size="9.3" text-anchor="middle">28</text>
<text x="273.36" y="1013.7" font-size="9.3" text-anchor="middle">28</text>
<text x="285.95" y="1013.7" font-size="9.3" text-anchor="middle">22</text>
<text x="298.54" y="1013.7" font-size="9.3" text-anchor="middle">21</text>
<text x="311.13" y="1013.7" font-size="9.3" text-anchor="middle">17</text>
<text x="323.72" y="1013.7" font-size="9.3" text-anchor="middle">15</text>
<text x="336.31" y="1013.7" font-size="9.3" text-anchor="middle">13</text>
<text x="348.9" y="1013.7" font-size="9.3" text-anchor="middle">8</text>
<text x="361.49" y="1013.7" font-size="9.3" text-anchor="middle">8</text>
<text x="374.08" y="1013.7" font-size="9.3" text-anchor="middle">7</text>
<text x="386.67" y="1013.7" font-size="9.3" text-anchor="middle">5</text>
<text x="399.27" y="1013.7" font-size="9.3" text-anchor="middle">3</text>
<text x="411.86" y="1013.7" font-size="9.3" text-anchor="middle">3</text>
<text x="424.45" y="1013.7" font-size="9.3" text-anchor="middle">2</text>
<text x="437.04" y="1013.7" font-size="9.3" text-anchor="middle">2</text>
<text x="449.63" y="1013.7" font-size="9.3" text-anchor="middle">1</text>
<text x="462.22" y="1013.7" font-size="9.3" text-anchor="middle">1</text>
<text x="474.81" y="1013.7" font-size="9.3" text-anchor="middle">1</text>
<text x="487.4" y="1013.7" font-size="9.3" text-anchor="middle">0</text>
<line x1="298" y1="710.5" x2="510" y2="710.5" stroke="#3c3c3c" stroke-width="1.3"/>
<line x1="436.9" y1="693.2" x2="436.9" y2="756.9" stroke="#3c3c3c" stroke-width="1.3"/>
<text x="430.3" y="703.2" font-size="9.25" text-anchor="end">OS</text>
<text x="474.5" y="703.2" font-size="9.25" text-anchor="middle">All FL Patients</text>
<text x="430.3" y="723.1" font-size="9.25" text-anchor="end">Median OS, months (95% CI)</text>
<text x="474.5" y="723.1" font-size="9.25" text-anchor="middle">NE</text>
<text x="430.3" y="737.8" font-size="9.25" text-anchor="end">Events/Total</text>
<text x="474.5" y="737.8" font-size="9.25" text-anchor="middle">12/48</text>
<text x="430.3" y="752.5" font-size="9.25" text-anchor="end" textLength="105.8" lengthAdjust="spacing">Median Follow-up, months</text>
<text x="474.5" y="752.5" font-size="9.25" text-anchor="middle">35.2</text>
<path d="M84.9 718.75H114.2V723.8H120.6V735H124V740.4H143.1V745.9H150.7V757.4H171.5V762.7H174.3V768.5H197.8V774.3H218.1V779.3H255V785.6H485.4" fill="none" stroke="#33557a" stroke-width="1.4" stroke-linejoin="miter" stroke-linecap="butt"/>
<line x1="92.5" y1="715.05" x2="92.5" y2="722.65" stroke="#33557a" stroke-width="1.4"/>
<line x1="110.6" y1="715.05" x2="110.6" y2="722.65" stroke="#33557a" stroke-width="1.4"/>
<line x1="111.6" y1="715.05" x2="111.6" y2="722.65" stroke="#33557a" stroke-width="1.4"/>
<line x1="117.5" y1="720.1" x2="117.5" y2="727.7" stroke="#33557a" stroke-width="1.4"/>
<line x1="126.5" y1="736.7" x2="126.5" y2="744.3" stroke="#33557a" stroke-width="1.4"/>
<line x1="188.6" y1="764.8" x2="188.6" y2="772.4" stroke="#33557a" stroke-width="1.4"/>
<line x1="225" y1="775.6" x2="225" y2="783.2" stroke="#33557a" stroke-width="1.4"/>
<line x1="247.7" y1="775.6" x2="247.7" y2="783.2" stroke="#33557a" stroke-width="1.4"/>
<line x1="257.7" y1="781.9" x2="257.7" y2="789.5" stroke="#33557a" stroke-width="1.4"/>
<line x1="276.5" y1="781.9" x2="276.5" y2="789.5" stroke="#33557a" stroke-width="1.4"/>
<line x1="280.2" y1="781.9" x2="280.2" y2="789.5" stroke="#33557a" stroke-width="1.4"/>
<line x1="282.3" y1="781.9" x2="282.3" y2="789.5" stroke="#33557a" stroke-width="1.4"/>
<line x1="285.7" y1="781.9" x2="285.7" y2="789.5" stroke="#33557a" stroke-width="1.4"/>
<line x1="288.5" y1="781.9" x2="288.5" y2="789.5" stroke="#33557a" stroke-width="1.4"/>
<line x1="302.3" y1="781.9" x2="302.3" y2="789.5" stroke="#33557a" stroke-width="1.4"/>
<line x1="303.8" y1="781.9" x2="303.8" y2="789.5" stroke="#33557a" stroke-width="1.4"/>
<line x1="305.2" y1="781.9" x2="305.2" y2="789.5" stroke="#33557a" stroke-width="1.4"/>
<line x1="306.4" y1="781.9" x2="306.4" y2="789.5" stroke="#33557a" stroke-width="1.4"/>
<line x1="311.9" y1="781.9" x2="311.9" y2="789.5" stroke="#33557a" stroke-width="1.4"/>
<line x1="327.2" y1="781.9" x2="327.2" y2="789.5" stroke="#33557a" stroke-width="1.4"/>
<line x1="336" y1="781.9" x2="336" y2="789.5" stroke="#33557a" stroke-width="1.4"/>
<line x1="337.3" y1="781.9" x2="337.3" y2="789.5" stroke="#33557a" stroke-width="1.4"/>
<line x1="338.6" y1="781.9" x2="338.6" y2="789.5" stroke="#33557a" stroke-width="1.4"/>
<line x1="339.6" y1="781.9" x2="339.6" y2="789.5" stroke="#33557a" stroke-width="1.4"/>
<line x1="343.8" y1="781.9" x2="343.8" y2="789.5" stroke="#33557a" stroke-width="1.4"/>
<line x1="348.1" y1="781.9" x2="348.1" y2="789.5" stroke="#33557a" stroke-width="1.4"/>
<line x1="368.3" y1="781.9" x2="368.3" y2="789.5" stroke="#33557a" stroke-width="1.4"/>
<line x1="385.3" y1="781.9" x2="385.3" y2="789.5" stroke="#33557a" stroke-width="1.4"/>
<line x1="386.8" y1="781.9" x2="386.8" y2="789.5" stroke="#33557a" stroke-width="1.4"/>
<line x1="388.2" y1="781.9" x2="388.2" y2="789.5" stroke="#33557a" stroke-width="1.4"/>
<line x1="423.8" y1="781.9" x2="423.8" y2="789.5" stroke="#33557a" stroke-width="1.4"/>
<line x1="438.7" y1="781.9" x2="438.7" y2="789.5" stroke="#33557a" stroke-width="1.4"/>
<line x1="481.5" y1="781.9" x2="481.5" y2="789.5" stroke="#33557a" stroke-width="1.4"/>
<rect x="154.8" y="740.9" width="28" height="9" fill="#fff"/>
<text x="155.2" y="748.9" font-size="9.6">84.3%</text>
<rect x="224.8" y="762.8" width="28" height="9" fill="#fff"/>
<text x="225.2" y="770.8" font-size="9.6">75.1%</text>
<rect x="300.5" y="768.3" width="28" height="9" fill="#fff"/>
<text x="300.9" y="776.3" font-size="9.6">72.6%</text>
<rect x="375.9" y="768.3" width="28" height="9" fill="#fff"/>
<text x="376.3" y="776.3" font-size="9.6">72.6%</text>
</svg></body></html>
